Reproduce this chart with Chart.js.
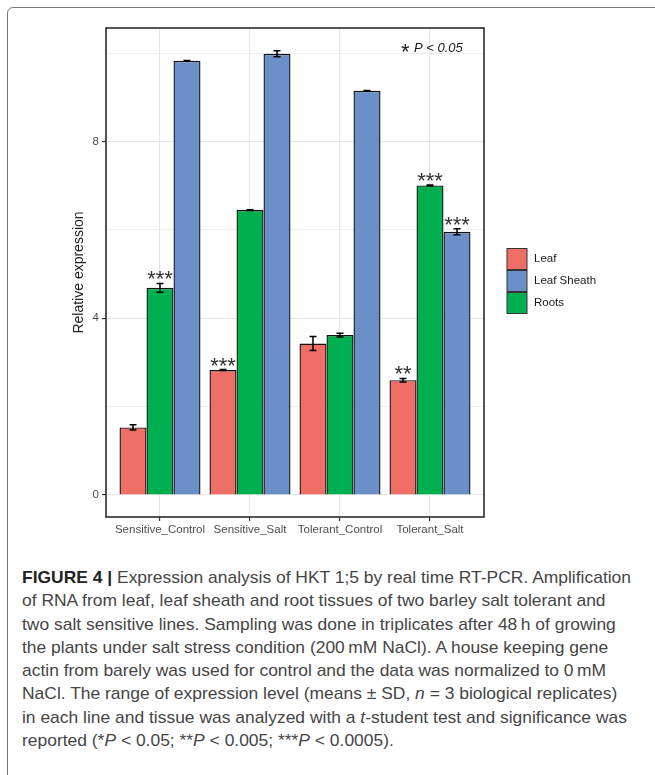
<!DOCTYPE html>
<html>
<head>
<meta charset="utf-8">
<script src="https://cdn.jsdelivr.net/npm/chart.js@4"></script>
<style>
  html, body { margin:0; padding:0; background:#fff; }
  body { width:655px; height:775px; position:relative; overflow:hidden; }
  #frame { position:absolute; left:7px; top:7px; width:700px; height:800px;
           border:1.5px solid #777; border-radius:6px; box-sizing:border-box; }
  #grafica { position:absolute; left:0; top:0; }
  #caption { position:absolute; left:22px; top:566px; transform-origin:0 0;
             font-family:"Liberation Sans", Arial, sans-serif; font-size:17px;
             line-height:23.3px; color:#454545; white-space:nowrap; }
  #caption b { color:#222; }
</style>
</head>
<body>
<div id="frame"></div>
<canvas id="grafica" width="655" height="545"></canvas>
<div id="caption">
<div class="linea"><b>FIGURE 4 |</b> Expression analysis of HKT 1;5 by real time RT-PCR. Amplification</div>
<div class="linea">of RNA from leaf, leaf sheath and root tissues of two barley salt tolerant and</div>
<div class="linea">two salt sensitive lines. Sampling was done in triplicates after 48&#8201;h of growing</div>
<div class="linea">the plants under salt stress condition (200&#8201;mM NaCl). A house keeping gene</div>
<div class="linea">actin from barely was used for control and the data was normalized to 0&#8201;mM</div>
<div class="linea">NaCl. The range of expression level (means ± SD, <i>n</i> = 3 biological replicates)</div>
<div class="linea">in each line and tissue was analyzed with a <i>t</i>-student test and significance was</div>
<div class="linea">reported (*<i>P</i> &lt; 0.05; **<i>P</i> &lt; 0.005; ***<i>P</i> &lt; 0.0005).</div>
</div>
<script>
// datos
var categorias = ['Sensitive_Control', 'Sensitive_Salt', 'Tolerant_Control', 'Tolerant_Salt'];
var leaf = [1.53, 2.83, 3.43, 2.60];
var leafSd = [0.06, 0.01, 0.16, 0.04];
var roots = [4.69, 6.45, 3.62, 7.01];
var rootsSd = [0.10, 0.01, 0.04, 0.01];
var sheath = [9.83, 9.99, 9.15, 5.96];
var sheathSd = [0.01, 0.07, 0.01, 0.07];
var leafSig = ['', '***', '', '**'];
var rootsSig = ['***', '', '', '***'];
var sheathSig = ['', '', '', '***'];
var yTicks = [0, 2, 4, 6, 8, 10];
var ordenLeyenda = ['Leaf', 'Leaf Sheath', 'Roots'];

// ajustar ancho del pie de figura
var cap = document.getElementById('caption');
var primera = cap.querySelector('.linea');
var rango = document.createRange();
rango.selectNodeContents(primera);
var anchoNat = rango.getBoundingClientRect().width;
cap.style.transform = 'scaleX(' + (609 / anchoNat) + ')';

Chart.defaults.font.family = '"Liberation Sans", Arial, sans-serif';

function puntos(valores) {
    return valores.map(function (v, i) { return {x: i + 1, y: v}; });
}

var datasets = [
    {label: 'Leaf', data: puntos(leaf), sd: leafSd, sig: leafSig,
     backgroundColor: '#EF6F66', borderColor: '#111', borderWidth: 1.4},
    {label: 'Roots', data: puntos(roots), sd: rootsSd, sig: rootsSig,
     backgroundColor: '#00AF50', borderColor: '#111', borderWidth: 1.4},
    {label: 'Leaf Sheath', data: puntos(sheath), sd: sheathSd, sig: sheathSig,
     backgroundColor: '#6B8FC9', borderColor: '#111', borderWidth: 1.4}
];

const errorBars = {
    id: 'errorBars',
    afterDatasetsDraw(chart) {
        var ctx = chart.ctx;
        var y = chart.scales.y;
        ctx.save();
        chart.data.datasets.forEach(function (ds, d) {
            var meta = chart.getDatasetMeta(d);
            meta.data.forEach(function (bar, i) {
                var v = ds.data[i].y, s = ds.sd[i];
                var top = y.getPixelForValue(v + s);
                var bot = y.getPixelForValue(v - s);
                ctx.strokeStyle = '#000';
                ctx.lineWidth = 1.5;
                ctx.beginPath();
                ctx.moveTo(bar.x, top); ctx.lineTo(bar.x, bot);
                ctx.moveTo(bar.x - 3.5, top); ctx.lineTo(bar.x + 3.5, top);
                ctx.moveTo(bar.x - 3.5, bot); ctx.lineTo(bar.x + 3.5, bot);
                ctx.stroke();
                if (ds.sig[i]) {
                    ctx.fillStyle = '#333';
                    ctx.font = '22px "Liberation Sans", Arial, sans-serif';
                    ctx.textAlign = 'center';
                    ctx.textBaseline = 'alphabetic';
                    ctx.fillText(ds.sig[i], bar.x, top + 3);
                }
            });
        });
        ctx.restore();
    },
    afterDraw(chart) {
        var ctx = chart.ctx, a = chart.chartArea;
        ctx.save();
        // borde del panel
        ctx.strokeStyle = '#2b2b2b';
        ctx.lineWidth = 1.6;
        ctx.strokeRect(a.left, a.top, a.right - a.left, a.bottom - a.top);
        // nota de significancia
        ctx.fillStyle = '#1a1a1a';
        ctx.textAlign = 'left';
        ctx.textBaseline = 'alphabetic';
        ctx.font = '22px "Liberation Sans", Arial, sans-serif';
        ctx.fillText('*', 401, 59);
        ctx.font = 'italic 13px "Liberation Sans", Arial, sans-serif';
        ctx.fillText('P < 0.05', 414, 52);
        // leyenda
        ctx.textBaseline = 'middle';
        ctx.font = '11.5px "Liberation Sans", Arial, sans-serif';
        ordenLeyenda.forEach(function (nombre, k) {
            var ds = chart.data.datasets.find(function (x) { return x.label === nombre; });
            var yb = 248.5 + k * 22;
            ctx.fillStyle = ds.backgroundColor;
            ctx.fillRect(507, yb, 20, 21);
            ctx.strokeStyle = '#333';
            ctx.lineWidth = 1;
            ctx.strokeRect(507, yb, 20, 21);
            ctx.fillStyle = '#1a1a1a';
            ctx.fillText(nombre, 534, yb + 10.5);
        });
        ctx.restore();
    }
};

var myChart = new Chart(document.getElementById('grafica'), {
    type: 'bar',
    data: {datasets: datasets},
    options: {
        responsive: false,
        animation: false,
        layout: {padding: {top: 28, right: 171, left: 0, bottom: 0}},
        datasets: {bar: {categoryPercentage: 0.9, barPercentage: 1}},
        scales: {
            x: {
                type: 'linear',
                min: 0.4,
                max: 4.6,
                offset: false,
                afterBuildTicks: function (scale) {
                    scale.ticks = categorias.map(function (c, i) { return {value: i + 1}; });
                },
                afterFit: function (scale) { scale.height = 28; },
                ticks: {
                    autoSkip: false, maxRotation: 0, padding: 2,
                    color: '#4d4d4d', font: {size: 11.5},
                    callback: function (v) { return categorias[v - 1]; }
                },
                grid: {offset: false, color: '#e6e6e6', lineWidth: 1.1, tickColor: '#333', tickLength: 4, tickWidth: 1.2},
                border: {display: false}
            },
            y: {
                min: -0.498,
                max: 10.573,
                afterBuildTicks: function (scale) {
                    scale.ticks = yTicks.map(function (v) { return {value: v}; });
                },
                afterFit: function (scale) { scale.width = 106; },
                ticks: {
                    padding: 3, color: '#4d4d4d', font: {size: 11.5},
                    callback: function (v) { return v % 4 === 0 ? v : ''; }
                },
                grid: {
                    color: '#e6e6e6',
                    lineWidth: function (c) { return c.tick && c.tick.value % 4 === 0 ? 1.1 : 0.7; },
                    tickColor: function (c) { return c.tick && c.tick.value % 4 === 0 ? '#333' : 'rgba(0,0,0,0)'; },
                    tickLength: 4, tickWidth: 1.2
                },
                border: {display: false},
                title: {
                    display: true, text: 'Relative expression', color: '#222',
                    font: {size: 14}, padding: {top: 71, bottom: 0}
                }
            }
        },
        plugins: {
            legend: {display: false},
            tooltip: {enabled: false}
        }
    },
    plugins: [errorBars]
});
</script>
</body>
</html>
